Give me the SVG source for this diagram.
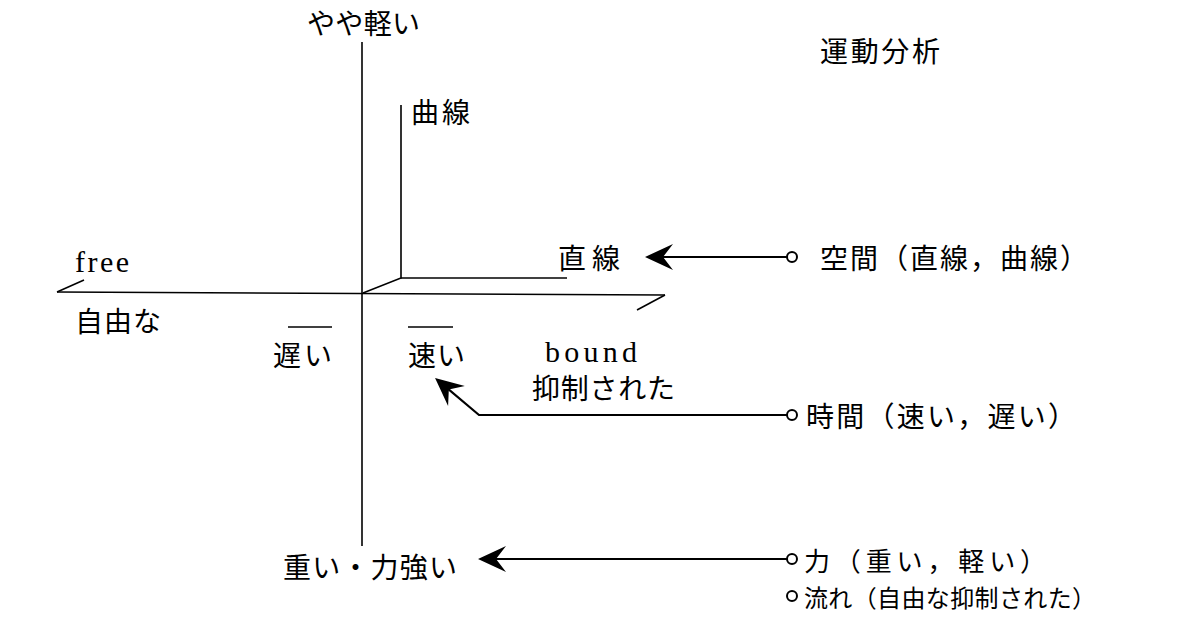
<svg xmlns="http://www.w3.org/2000/svg" width="1183" height="627" viewBox="0 0 1183 627">
<style>
.j{font-family:"Noto Sans CJK JP","Noto Sans",sans-serif;font-size:28px;fill:#000;dominant-baseline:central}
.m{font-size:26px}
.s{font-size:24px}
.e{font-family:"Liberation Serif",serif;font-size:30px;fill:#000}
.ax{stroke:#000;stroke-width:1.6;fill:none}
.cn{stroke:#000;stroke-width:2.2;fill:none}
.dot{stroke:#000;stroke-width:2;fill:#fff}
</style>
<defs>
<marker id="ah" markerUnits="userSpaceOnUse" viewBox="-30 -15 32 30" markerWidth="32" markerHeight="30" refX="-10" refY="0" orient="auto">
<path d="M0,0 L-28,-13 L-18,0 L-28,13 Z" fill="#000"/>
</marker>
</defs>
<rect width="1183" height="627" fill="#fff"/>
<g id="axes">
<path class="ax" d="M362,42 V546"/>
<path class="ax" d="M57,292 L665,295"/>
<path class="ax" d="M57,292 L84,280"/>
<path class="ax" d="M665,295 L637,310"/>
<path class="ax" d="M363,293 L401,278 V105"/>
<path class="ax" d="M401,278 H567"/>
<path class="ax" d="M288,327 H332"/>
<path class="ax" d="M408,327 H453"/>
</g>
<g id="labels">
<text class="j" x="307" y="22" textLength="113">やや軽い</text>
<text class="j" x="411" y="111" textLength="59">曲線</text>
<text class="j" x="820" y="50" textLength="120">運動分析</text>
<text class="e" x="75" y="272" textLength="54">free</text>
<text class="j" x="75" y="320" textLength="86">自由な</text>
<text class="j" x="558" y="257" textLength="62">直線</text>
<text class="j" x="273" y="354" textLength="59">遅い</text>
<text class="j" x="408" y="354" textLength="57">速い</text>
<text class="e" x="545" y="362" textLength="92">bound</text>
<text class="j" x="532" y="387" textLength="143">抑制された</text>
<text class="j" x="283" y="566" textLength="174">重い・力強い</text>
</g>
<g id="node-space">
<circle class="dot" cx="792" cy="257" r="5"/>
<text class="j" x="820" y="257" textLength="268">空間（直線，曲線）</text>
</g>
<g id="node-time">
<circle class="dot" cx="792" cy="415" r="5"/>
<text class="j" x="806" y="415" textLength="270">時間（速い，遅い）</text>
</g>
<g id="node-force">
<circle class="dot" cx="792" cy="559" r="5"/>
<text class="j m" x="804" y="559" textLength="242">力（重い，軽い）</text>
</g>
<g id="node-flow">
<circle class="dot" cx="792" cy="596" r="5"/>
<text class="j s" x="804" y="596" textLength="292">流れ（自由な抑制された）</text>
</g>
<g id="connectors">
<path class="cn" d="M787,257 H655" marker-end="url(#ah)"/>
<path class="cn" d="M787,415 H479 L442.7,384.4" marker-end="url(#ah)"/>
<path class="cn" d="M787,559 H488" marker-end="url(#ah)"/>
</g>
</svg>
